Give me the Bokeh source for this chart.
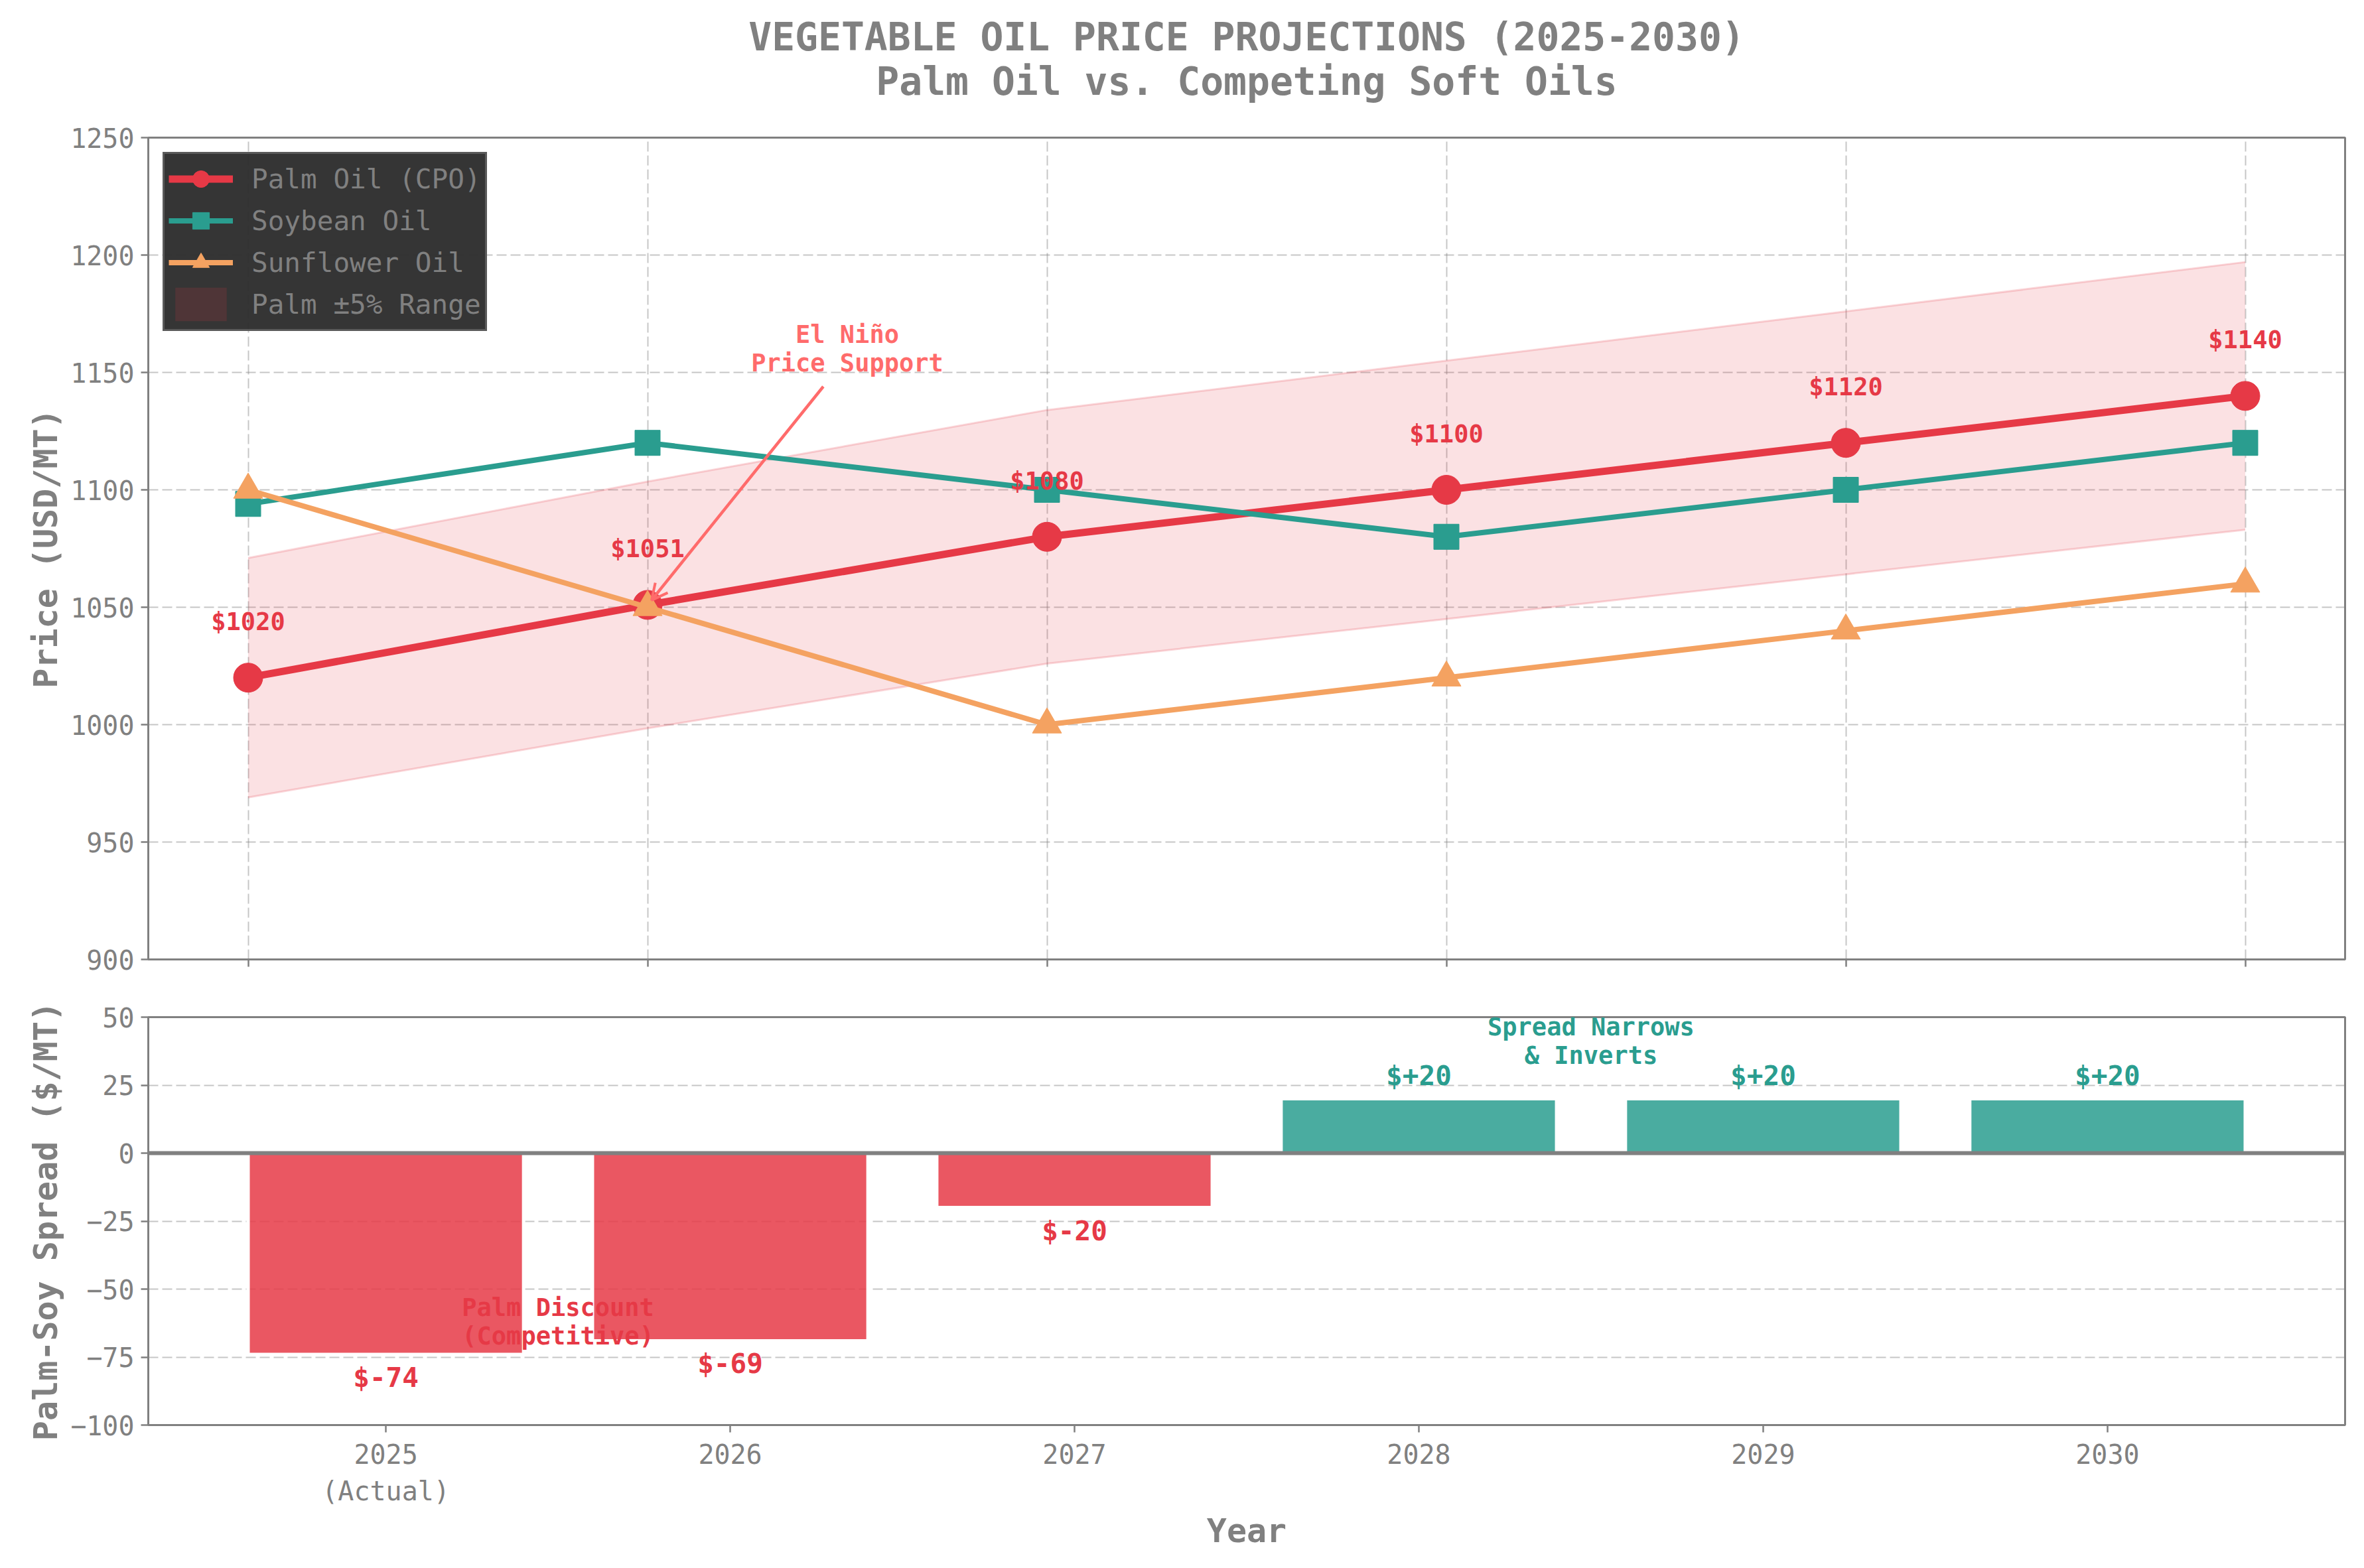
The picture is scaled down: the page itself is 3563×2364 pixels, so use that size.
from bokeh.plotting import figure
from bokeh.layouts import column
from bokeh.models import (ColumnDataSource, FixedTicker, Legend, LegendItem,
                          Arrow, OpenHead, Span, Label, Title)
from bokeh.embed import file_html
from bokeh.resources import INLINE

# data
years = [2025, 2026, 2027, 2028, 2029, 2030]
year_labels = ["2025\n(Actual)", "2026", "2027", "2028", "2029", "2030"]
palm = [1020, 1051, 1080, 1100, 1120, 1140]
soy = [1094, 1120, 1100, 1080, 1100, 1120]
sunflower = [1100, 1050, 1000, 1020, 1040, 1060]
band_pct = 0.05
price_ticks = [900, 950, 1000, 1050, 1100, 1150, 1200, 1250]
spread_ticks = [-100, -75, -50, -25, 0, 25, 50]

spread = [p - s for p, s in zip(palm, soy)]

FONT = "DejaVu Sans Mono"
GRAY = "#808080"
RED = "#E63946"
TEAL = "#2A9D8F"
ORANGE = "#F4A261"
ARROW_RED = "#FF6B6B"
W = 3547


def style(p):
    p.outline_line_color = GRAY
    p.outline_line_width = 3
    for ax in p.axis:
        ax.axis_line_color = GRAY
        ax.axis_line_width = 3
        ax.major_tick_line_color = GRAY
        ax.major_tick_line_width = 2.5
        ax.major_tick_out = 11
        ax.major_tick_in = 0
        ax.minor_tick_line_color = None
        ax.major_label_text_font = FONT
        ax.major_label_text_font_size = "40px"
        ax.major_label_text_color = GRAY
        ax.major_label_standoff = 10
        ax.axis_label_text_font = FONT
        ax.axis_label_text_font_size = "50px"
        ax.axis_label_text_font_style = "bold"
        ax.axis_label_text_color = GRAY
    for g in p.grid:
        g.grid_line_color = GRAY
        g.grid_line_alpha = 0.45
        g.grid_line_dash = "15 6"
        g.grid_line_width = 2


def note(p, x, y, text, color):
    p.add_layout(Label(x=x, y=y, text=text, text_align="center",
                       text_baseline="middle", text_line_height=1.0,
                       text_font=FONT, text_font_style="bold",
                       text_font_size="37px", text_color=color))


# ---- top panel: prices
p1 = figure(width=W, height=1488, x_range=(-0.25, 5.25), y_range=(900, 1250),
            output_backend="svg", toolbar_location=None,
            min_border_left=223, min_border_right=13,
            min_border_top=207, min_border_bottom=42)
p1.title = None
p1.add_layout(Title(text="Palm Oil vs. Competing Soft Oils", align="center",
                    text_font=FONT, text_font_size="58px", text_font_style="bold",
                    text_color=GRAY, standoff=102), "above")
p1.add_layout(Title(text="VEGETABLE OIL PRICE PROJECTIONS (2025-2030)", align="center",
                    text_font=FONT, text_font_size="58px", text_font_style="bold",
                    text_color=GRAY, standoff=-108), "above")

src = ColumnDataSource(dict(
    x=list(range(len(years))), palm=palm, soy=soy, sun=sunflower,
    lo=[v * (1 - band_pct) for v in palm],
    hi=[v * (1 + band_pct) for v in palm],
    lab=[f"${v}" for v in palm],
))

band = p1.varea(x="x", y1="lo", y2="hi", source=src, fill_color=RED, fill_alpha=0.15)
p1.line("x", "hi", source=src, line_color=RED, line_alpha=0.2, line_width=3)
p1.line("x", "lo", source=src, line_color=RED, line_alpha=0.2, line_width=3)

palm_l = p1.line("x", "palm", source=src, line_color=RED, line_width=11)
palm_m = p1.scatter("x", "palm", source=src, marker="circle", size=44, color=RED)
soy_l = p1.line("x", "soy", source=src, line_color=TEAL, line_width=8)
soy_m = p1.scatter("x", "soy", source=src, marker="square", size=38, color=TEAL)
sun_l = p1.line("x", "sun", source=src, line_color=ORANGE, line_width=8)
sun_m = p1.scatter("x", "sun", source=src, marker="triangle", size=44, color=ORANGE)

p1.text("x", "palm", text="lab", source=src, y_offset=-84,
        text_align="center", text_baseline="middle",
        text_font={"value": FONT}, text_font_style="bold", text_font_size="37px",
        text_color=RED)

# El Nino note
note(p1, 1.5, 1160, "El Niño\nPrice Support", ARROW_RED)
p1.add_layout(Arrow(end=OpenHead(size=24, line_color=ARROW_RED, line_width=4),
                    x_start=1.44, y_start=1144, x_end=1.01, y_end=1053,
                    line_color=ARROW_RED, line_width=4.5))

p1.xaxis.ticker = FixedTicker(ticks=list(range(len(years))))
p1.yaxis.ticker = FixedTicker(ticks=price_ticks)
p1.yaxis.axis_label = "Price (USD/MT)"
style(p1)
# tick marks only, no labels under the top panel
p1.xaxis.major_label_text_font_size = "0px"
p1.xaxis.major_label_text_color = None
p1.xaxis.major_label_standoff = 0

legend = Legend(items=[
    LegendItem(label="Palm Oil (CPO)", renderers=[palm_l, palm_m]),
    LegendItem(label="Soybean Oil", renderers=[soy_l, soy_m]),
    LegendItem(label="Sunflower Oil", renderers=[sun_l, sun_m]),
    LegendItem(label="Palm ±5% Range", renderers=[band]),
], location="top_left")
legend.background_fill_color = "#2E2E2E"
legend.background_fill_alpha = 0.97
legend.border_line_color = GRAY
legend.border_line_width = 3
legend.label_text_font = FONT
legend.label_text_font_size = "41px"
legend.label_text_color = GRAY
legend.glyph_width = 97
legend.glyph_height = 63
legend.label_height = 63
legend.spacing = 0
legend.padding = 6
legend.margin = 22
legend.label_standoff = 28
p1.add_layout(legend)

# ---- bottom panel: palm-soy spread
p2 = figure(width=W, height=860, x_range=(2024.31, 2030.69), y_range=(-100, 50),
            output_backend="svg", toolbar_location=None,
            min_border_left=223, min_border_right=13,
            min_border_top=45, min_border_bottom=200)
p2.title = None

bsrc = ColumnDataSource(dict(
    x=years, s=spread,
    color=[RED if v < 0 else TEAL for v in spread],
    lab=[f"${v:+d}" for v in spread],
    off=[35 if v < 0 else -35 for v in spread],
))
p2.vbar(x="x", top="s", bottom=0, width=0.8, source=bsrc,
        fill_color="color", fill_alpha=0.85, line_color="white", line_width=5)
p2.add_layout(Span(location=0, dimension="width", line_color=GRAY, line_width=6))
p2.text("x", "s", text="lab", source=bsrc, y_offset="off",
        text_align="center", text_baseline="middle",
        text_font={"value": FONT}, text_font_style="bold", text_font_size="41px",
        text_color="color")

note(p2, 2025.5, -62, "Palm Discount\n(Competitive)", RED)
note(p2, 2028.5, 41, "Spread Narrows\n& Inverts", TEAL)

p2.xaxis.ticker = FixedTicker(ticks=years)
p2.xaxis.major_label_overrides = {y: lab for y, lab in zip(years, year_labels)}
p2.xaxis.axis_label = "Year"
p2.yaxis.ticker = FixedTicker(ticks=spread_ticks)
p2.yaxis.axis_label = "Palm-Soy Spread ($/MT)"
style(p2)
p2.xgrid.grid_line_color = None

layout = column(p1, p2)
open("out.html", "w").write(file_html(layout, INLINE))
